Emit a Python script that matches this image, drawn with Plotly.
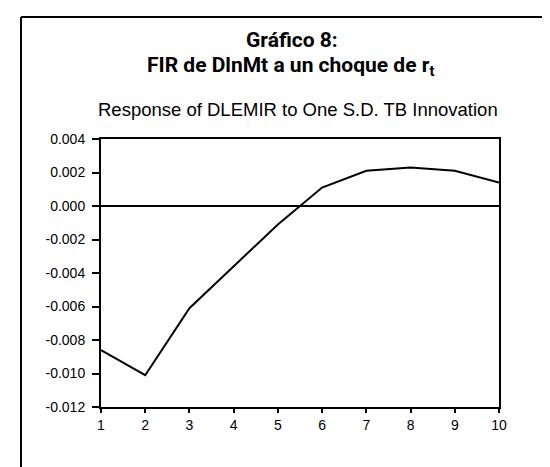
import plotly.graph_objects as go

# Data
periods = [1, 2, 3, 4, 5, 6, 7, 8, 9, 10]
response = [-0.0086, -0.0101, -0.0061, -0.0036, -0.0011, 0.0011, 0.0021, 0.0023, 0.0021, 0.0014]
y_tick_vals = [0.004, 0.002, 0.0, -0.002, -0.004, -0.006, -0.008, -0.010, -0.012]
y_tick_labels = ["0.004", "0.002", "0.000", "-0.002", "-0.004", "-0.006", "-0.008", "-0.010", "-0.012"]
x_tick_labels = [str(p) for p in periods]

title_line1 = "Gráfico 8:"
title_line2 = "FIR de DlnMt a un choque de r<sub>t</sub>"
subtitle = "Response of DLEMIR to One S.D. TB Innovation"

W, H = 550, 467
L, R, T, B = 93, 59, 131, 68
pw, ph = W - L - R, H - T - B

def px(x):
    return (x - L) / pw

def py(y):
    return (H - B - y) / ph

fig = go.Figure()
fig.add_trace(go.Scatter(
    x=periods, y=response, mode="lines",
    line=dict(color="black", width=2),
    hoverinfo="skip", showlegend=False,
))

tick_font = dict(family="Liberation Sans, Arial, sans-serif", size=14, color="black")
title_font_family = "Roboto, Liberation Sans, Arial, sans-serif"

fig.update_layout(
    width=W, height=H,
    margin=dict(l=L, r=R, t=T, b=B, pad=0),
    paper_bgcolor="white", plot_bgcolor="white",
    showlegend=False,
    xaxis=dict(
        range=[1, 10], tickmode="array", tickvals=periods, ticktext=x_tick_labels,
        showgrid=False, zeroline=False,
        showline=True, linecolor="black", linewidth=2, mirror=True,
        ticks="outside", ticklen=4, tickwidth=2, tickcolor="black",
        tickfont=tick_font, fixedrange=True,
    ),
    yaxis=dict(
        range=[-0.012, 0.004], tickmode="array", tickvals=y_tick_vals, ticktext=y_tick_labels,
        showgrid=False,
        zeroline=True, zerolinecolor="black", zerolinewidth=2,
        showline=True, linecolor="black", linewidth=2, mirror=True,
        ticks="outside", ticklen=7, tickwidth=2, tickcolor="black",
        tickfont=tick_font, ticklabelstandoff=4, fixedrange=True,
    ),
    annotations=[
        dict(text="<b>" + title_line1 + "</b>", xref="paper", yref="paper",
             x=px(284), y=py(32.5), xanchor="center", yanchor="middle", showarrow=False,
             font=dict(family=title_font_family, size=21, color="black")),
        dict(text="<b>" + title_line2 + "</b>", xref="paper", yref="paper",
             x=px(282), y=py(59), xanchor="center", yanchor="middle", showarrow=False,
             font=dict(family=title_font_family, size=21, color="black")),
        dict(text=subtitle, xref="paper", yref="paper",
             x=px(290), y=py(101.5), xanchor="center", yanchor="middle", showarrow=False,
             font=dict(family="Liberation Sans, Arial, sans-serif", size=18.5, color="black")),
    ],
    shapes=[
        dict(type="line", xref="paper", yref="paper", x0=px(13), x1=px(13), y0=py(9), y1=py(H),
             line=dict(color="black", width=2)),
        dict(type="line", xref="paper", yref="paper", x0=px(13), x1=px(W), y0=py(9), y1=py(9),
             line=dict(color="black", width=2)),
    ],
)

fig.write_html("out.html")
